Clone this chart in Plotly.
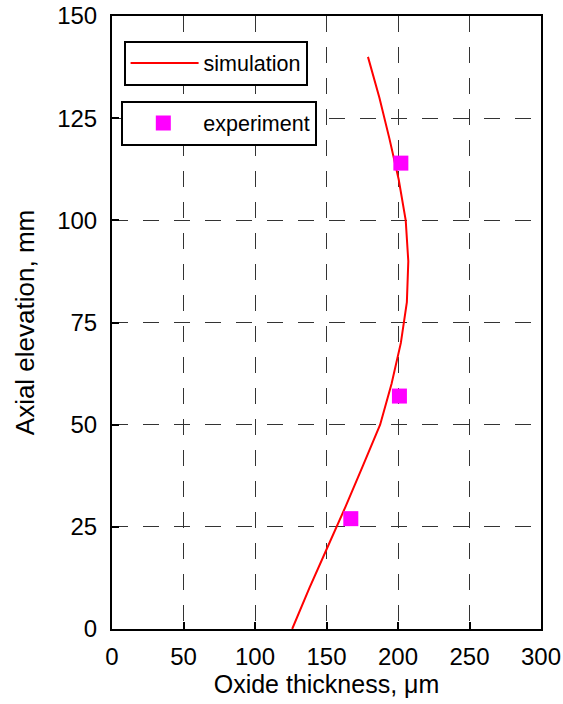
import plotly.graph_objects as go

# Simulated axial profile of oxide thickness
elev_sim = [0, 10, 20, 30, 40, 50, 60, 70, 80, 90, 100, 110, 120, 130, 140]
oxide_sim = [126, 138, 150.7, 163.4, 175.5, 187.5, 195.5, 202, 206.2, 207.2,
             205.4, 200.5, 194, 187, 179]

# Measured oxide thickness
elev_exp = [114, 57, 27]
oxide_exp = [202, 201, 167]

x_ticks = [0, 50, 100, 150, 200, 250, 300]
y_ticks = [0, 25, 50, 75, 100, 125, 150]

FONT = "Arial, Liberation Sans, sans-serif"

fig = go.Figure()
fig.add_trace(go.Scatter(
    x=oxide_sim, y=elev_sim, mode="lines", name="simulation",
    line=dict(color="#FF0000", width=2), legend="legend", showlegend=True,
))
fig.add_trace(go.Scatter(
    x=oxide_exp, y=elev_exp, mode="markers", name="experiment",
    marker=dict(symbol="square", size=15, color="#FF00FF"),
    legend="legend2", showlegend=True,
))

axis_common = dict(
    showgrid=True, gridcolor="#333333", gridwidth=1, griddash="16px,15px",
    showline=True, linecolor="black", linewidth=2, mirror=True,
    ticks="inside", ticklen=7, tickwidth=1.5, tickcolor="black",
    tickfont=dict(size=24, color="black", family=FONT),
    zeroline=False, automargin=False,
)

fig.update_layout(
    width=563, height=704, autosize=False, showlegend=True,
    margin=dict(l=112, r=22, t=16, b=75),
    paper_bgcolor="white", plot_bgcolor="white",
    font=dict(family=FONT, color="black"),
    xaxis=dict(range=[0, 300], tickvals=x_ticks, ticklabelstandoff=5,
               title=dict(text="Oxide thickness, μm", standoff=4,
                          font=dict(size=25, color="black", family=FONT)),
               **axis_common),
    yaxis=dict(range=[0, 150], tickvals=y_ticks, ticklabelstandoff=8,
               title=dict(text="Axial elevation, mm",
                          font=dict(size=26, color="black", family=FONT)),
               **axis_common),
    legend=dict(x=0.027, y=0.96, xanchor="left", yanchor="top",
                bgcolor="white", bordercolor="black", borderwidth=2,
                font=dict(size=21.5, color="black", family=FONT),
                itemwidth=68, visible=True),
    legend2=dict(x=0.0217, y=0.862, xanchor="left", yanchor="top",
                 bgcolor="white", bordercolor="black", borderwidth=2,
                 font=dict(size=21.5, color="black", family=FONT),
                 itemwidth=70, visible=True),
)

fig.write_html("out.html")
